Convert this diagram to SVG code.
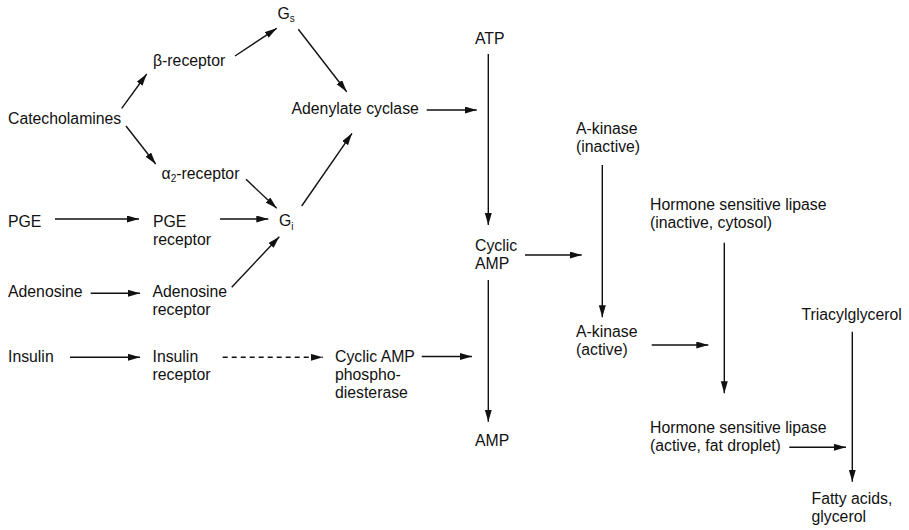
<svg xmlns="http://www.w3.org/2000/svg" width="909" height="530" viewBox="0 0 909 530">
<defs>
<style>
text{font-family:"Liberation Sans",Arial,sans-serif;font-size:15.8px;fill:#111}
.sub{font-size:10px}
.c line{stroke:#111;stroke-width:1.4;fill:none;marker-end:url(#ah)}
.c .d{stroke-dasharray:5 4}
</style>
<marker id="ah" markerUnits="userSpaceOnUse" markerWidth="13" markerHeight="8" refX="12" refY="3.5" orient="auto">
<path d="M0,0 L12,3.5 L0,7 z" fill="#111"/>
</marker>
</defs>
<rect width="909" height="530" fill="#fff"/>
<g id="catecholamines"><text x="8" y="124">Catecholamines</text></g>
<g id="beta-receptor"><text x="153" y="66">β-receptor</text></g>
<g id="alpha2-receptor"><text x="161.5" y="178.5">α<tspan class="sub" dy="3">2</tspan><tspan dy="-3">-receptor</tspan></text></g>
<g id="gs"><text x="277.5" y="18.5">G<tspan class="sub" dy="3.5">s</tspan></text></g>
<g id="gi"><text x="279" y="226">G<tspan class="sub" dy="3.5">i</tspan></text></g>
<g id="adenylate-cyclase"><text x="291.5" y="113.5">Adenylate cyclase</text></g>
<g id="pge"><text x="8" y="226.5">PGE</text></g>
<g id="pge-receptor"><text x="153" y="226.5">PGE</text><text x="153" y="244.5">receptor</text></g>
<g id="adenosine"><text x="8" y="296.5">Adenosine</text></g>
<g id="adenosine-receptor"><text x="152.5" y="296.5">Adenosine</text><text x="152.5" y="314.5">receptor</text></g>
<g id="insulin"><text x="8" y="361.5">Insulin</text></g>
<g id="insulin-receptor"><text x="152.5" y="361.5">Insulin</text><text x="152.5" y="379.5">receptor</text></g>
<g id="camp-pde"><text x="335" y="361.5">Cyclic AMP</text><text x="335" y="379.5">phospho-</text><text x="335" y="397.5">diesterase</text></g>
<g id="atp"><text x="475" y="44">ATP</text></g>
<g id="cyclic-amp"><text x="475" y="251">Cyclic</text><text x="475" y="269">AMP</text></g>
<g id="amp"><text x="475" y="446">AMP</text></g>
<g id="akinase-inactive"><text x="576" y="133.5">A-kinase</text><text x="576" y="151.5">(inactive)</text></g>
<g id="akinase-active"><text x="576" y="337">A-kinase</text><text x="576" y="355">(active)</text></g>
<g id="hsl-inactive"><text x="650" y="209.5">Hormone sensitive lipase</text><text x="650" y="227.5">(inactive, cytosol)</text></g>
<g id="triacylglycerol"><text x="801.5" y="320">Triacylglycerol</text></g>
<g id="hsl-active"><text x="650" y="432.5">Hormone sensitive lipase</text><text x="650" y="450.5">(active, fat droplet)</text></g>
<g id="fatty-acids"><text x="811.5" y="503.5">Fatty acids,</text><text x="811.5" y="521.5">glycerol</text></g>
<g id="connectors" class="c">
<line x1="121.7" y1="108.3" x2="146.7" y2="74"/>
<line x1="126" y1="126" x2="155.7" y2="164"/>
<line x1="235" y1="56" x2="276.7" y2="28.3"/>
<line x1="298.3" y1="29.3" x2="346.7" y2="91.7"/>
<line x1="426.7" y1="110" x2="476.7" y2="110"/>
<line x1="246" y1="179.3" x2="276.7" y2="208.3"/>
<line x1="220" y1="219" x2="268.3" y2="219"/>
<line x1="231.7" y1="287.3" x2="279.3" y2="236.7"/>
<line x1="301.7" y1="206" x2="352" y2="133.3"/>
<line x1="55" y1="219" x2="139" y2="219"/>
<line x1="90.7" y1="293.3" x2="140" y2="293.3"/>
<line x1="70" y1="357.3" x2="140" y2="357.3"/>
<line class="d" x1="222.7" y1="357.3" x2="322.7" y2="357.3"/>
<line x1="421.7" y1="356.5" x2="472" y2="356.5"/>
<line x1="488.3" y1="54" x2="488.3" y2="225"/>
<line x1="488.3" y1="280" x2="488.3" y2="421.7"/>
<line x1="525" y1="255" x2="581.7" y2="255"/>
<line x1="602.3" y1="165" x2="602.3" y2="317.3"/>
<line x1="651.7" y1="345" x2="708.3" y2="345"/>
<line x1="724.3" y1="242.7" x2="724.3" y2="393.3"/>
<line x1="852.3" y1="331.7" x2="852.3" y2="481.7"/>
<line x1="789.3" y1="447.3" x2="846" y2="447.3"/>
</g>
</svg>
